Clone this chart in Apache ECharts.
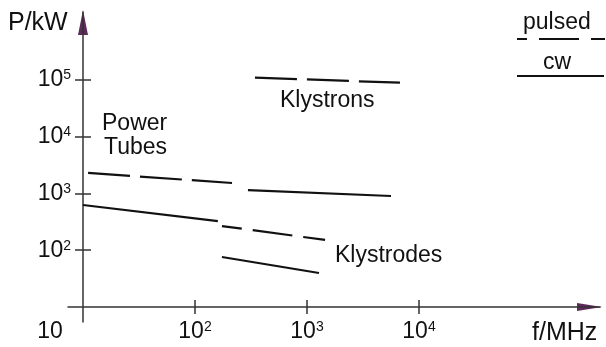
<!DOCTYPE html>
<html><head><meta charset="utf-8">
<script src="https://cdn.jsdelivr.net/npm/echarts@6/dist/echarts.min.js"></script>
<style>html,body{margin:0;padding:0;background:#fff}#c{width:606px;height:347px}</style>
</head><body><div id="c"></div>
<script>
// Tick values (log axes)
const xLabelValues = [10, 100, 1000, 10000];
const xTickValues = [100, 1000, 10000];
const yLabelValues = [100, 1000, 10000, 100000];
const yTickValues = [100, 1000, 10000, 100000];

// Series (f in MHz, P in kW)
const tubesPulsedF = [11.1, 214];
const tubesPulsedP = [2300, 1530];
const upperLongF = [297, 5620];
const upperLongP = [1150, 904];
const tubesCwF = [10, 160];
const tubesCwP = [627, 327];
const lowerPulsedF = [174, 1450];
const lowerPulsedP = [267, 152];
const klystronsF = [343, 6760];
const klystronsP = [110000, 89500];
const klystrodesF = [174, 1280];
const klystrodesP = [76, 39.7];

const FONT = '"Liberation Sans", Arial, sans-serif';
const INK = '#111';
const AX = '#333';

const xMin = Math.pow(10, 0.866), xMax = Math.pow(10, 5.616);
const yMin = Math.pow(10, 0.7357), yMax = Math.pow(10, 6.198);

function pts(f, p) { return f.map((v, i) => [v, p[i]]); }

function expLabel(v) {
  const e = Math.round(Math.log10(v));
  if (e === 1) return '{corner|10}';
  return '{b|10}{sup|' + e + '}';
}
const rich = {
  b: { fontSize: 23, color: INK, fontFamily: FONT },
  sup: { fontSize: 14, color: INK, fontFamily: FONT, verticalAlign: 'top' },
  corner: { fontSize: 23, color: INK, fontFamily: FONT, padding: [0, 66, 0, 0] }
};

function lineSeries(name, f, p, type, offset) {
  return {
    name, type: 'line', xAxisIndex: 0, yAxisIndex: 0,
    data: pts(f, p), symbol: 'none', silent: true,
    lineStyle: { color: INK, width: 2.2, type: type || 'solid', dashOffset: offset || 0 }
  };
}

const chart = echarts.init(document.getElementById('c'), null, { renderer: 'canvas' });
const txt = (text, x, y, size) => ({
  type: 'text', x, y, silent: true,
  style: { text, fill: INK, font: (size || 23) + 'px ' + FONT, align: 'left', verticalAlign: 'top' }
});

chart.setOption({
  animation: false,
  backgroundColor: '#fff',
  textStyle: { fontFamily: FONT },
  grid: { left: 68, right: 6, top: 12, bottom: 25, containLabel: false },
  xAxis: [{
    type: 'log', min: xMin, max: xMax, position: 'bottom', offset: -15,
    axisLine: { show: true, lineStyle: { color: AX, width: 1.5 } },
    axisTick: { show: true, length: 7, inside: false, lineStyle: { color: AX, width: 1.5 }, customValues: xTickValues },
    axisLabel: { show: true, margin: 13, customValues: xLabelValues, formatter: expLabel, rich },
    splitLine: { show: false }, minorTick: { show: false }
  }, {
    type: 'log', min: xMin, max: xMax, position: 'bottom', offset: -15,
    axisLine: { show: false },
    axisTick: { show: true, length: 7, inside: true, lineStyle: { color: AX, width: 1.5 }, customValues: xTickValues },
    axisLabel: { show: false }, splitLine: { show: false }
  }],
  yAxis: [{
    type: 'log', min: yMin, max: yMax, position: 'left', offset: -15,
    axisLine: { show: true, lineStyle: { color: AX, width: 1.5 } },
    axisTick: { show: true, length: 8, inside: false, lineStyle: { color: AX, width: 1.5 }, customValues: yTickValues },
    axisLabel: { show: true, margin: 12, customValues: yLabelValues, formatter: expLabel, rich },
    splitLine: { show: false }, minorTick: { show: false }
  }, {
    type: 'log', min: yMin, max: yMax, position: 'left', offset: -15,
    axisLine: { show: false },
    axisTick: { show: true, length: 8, inside: true, lineStyle: { color: AX, width: 1.5 }, customValues: yTickValues },
    axisLabel: { show: false }, splitLine: { show: false }
  }],
  series: [
    lineSeries('Power tubes pulsed', tubesPulsedF, tubesPulsedP, [42, 10], 0),
    lineSeries('Upper long segment', upperLongF, upperLongP, 'solid'),
    lineSeries('Power tubes cw', tubesCwF, tubesCwP, 'solid'),
    lineSeries('Lower pulsed', lowerPulsedF, lowerPulsedP, [40, 11], 20),
    lineSeries('Klystrons pulsed', klystronsF, klystronsP, [42, 10], 0),
    lineSeries('Klystrodes cw', klystrodesF, klystrodesP, 'solid')
  ],
  graphic: [
    { type: 'polygon', silent: true, shape: { points: [[577, 303], [602, 307], [577, 311]] }, style: { fill: '#5e2a5a' } },
    { type: 'polygon', silent: true, shape: { points: [[78, 35], [83, 10], [88, 35]] }, style: { fill: '#5e2a5a' } },
    txt('P/kW', 8, 11, 25),
    txt('f/MHz', 532, 321, 25),
    txt('Power', 102, 112),
    txt('Tubes', 104, 136),
    txt('Klystrons', 280, 89),
    txt('Klystrodes', 335, 244),
    txt('pulsed', 523, 11),
    txt('cw', 543, 51),
    { type: 'line', silent: true, shape: { x1: 517, y1: 39, x2: 605, y2: 39 },
      style: { stroke: INK, lineWidth: 2.2, lineDash: [40, 12], lineDashOffset: 30 } },
    { type: 'line', silent: true, shape: { x1: 517, y1: 76, x2: 604, y2: 76 },
      style: { stroke: INK, lineWidth: 2.2 } }
  ]
});
</script></body></html>
